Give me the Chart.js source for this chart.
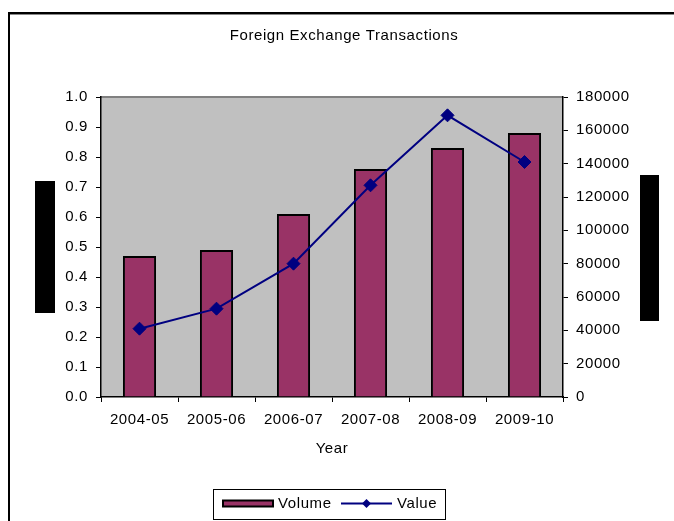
<!DOCTYPE html>
<html>
<head>
<meta charset="utf-8">
<script src="https://cdn.jsdelivr.net/npm/chart.js@4/dist/chart.umd.min.js"></script>
<style>
html,body{margin:0;padding:0;background:#fff;}
#wrap{width:674px;height:521px;position:relative;}
</style>
</head>
<body>
<div id="wrap"><canvas id="c" width="674" height="521"></canvas></div>
<script>
const chartTitle = "Foreign Exchange Transactions";
const xAxisTitle = "Year";
const years = ["2004-05", "2005-06", "2006-07", "2007-08", "2008-09", "2009-10"];
const volume = [0.47, 0.49, 0.61, 0.76, 0.83, 0.88];
const value = [41000, 53000, 80000, 127000, 169000, 141000];
const leftTicks = {min: 0, max: 1.0, step: 0.1};
const rightTicks = {min: 0, max: 180000, step: 20000};

const FONT = "'Liberation Sans', Arial, sans-serif";
const SPACING = '0.6px';

const decorPlugin = {
  id: 'decor',
  beforeUpdate(chart) { chart.ctx.letterSpacing = SPACING; },
  beforeDraw(chart) {
    const ctx = chart.ctx;
    const a = chart.chartArea;
    ctx.save();
    ctx.fillStyle = '#fff';
    ctx.fillRect(0, 0, chart.width, chart.height);
    // outer frame
    ctx.fillStyle = '#000';
    ctx.fillRect(8, 12, chart.width - 8, 2);
    ctx.fillRect(8, 12, 2, chart.height - 12);
    ctx.fillStyle = '#888';
    ctx.fillRect(10, 14, chart.width - 10, 1);
    // plot background
    ctx.fillStyle = '#C0C0C0';
    ctx.fillRect(a.left, a.top, a.right - a.left, a.bottom - a.top);
    ctx.strokeStyle = '#808080';
    ctx.lineWidth = 2;
    ctx.beginPath();
    ctx.moveTo(a.left, a.top);
    ctx.lineTo(a.right, a.top);
    ctx.stroke();
    // redacted axis title boxes
    ctx.fillStyle = '#000';
    ctx.fillRect(35, 181, 20, 132);
    ctx.fillRect(640, 175, 19, 146);
    ctx.restore();
    ctx.letterSpacing = SPACING;
  },
  afterDraw(chart) {
    const ctx = chart.ctx;
    ctx.save();
    ctx.letterSpacing = SPACING;
    ctx.fillStyle = '#000';
    ctx.font = '15px ' + FONT;
    ctx.textAlign = 'center';
    ctx.textBaseline = 'middle';
    ctx.fillText(chartTitle, 344, 36);
    // legend
    const ds = chart.data.datasets;
    const bar = ds.find(d => d.type === 'bar');
    const line = ds.find(d => d.type === 'line');
    ctx.strokeStyle = '#000';
    ctx.lineWidth = 1;
    ctx.strokeRect(213.5, 489.5, 232, 30);
    const cy = 503.5;
    ctx.fillStyle = bar.backgroundColor;
    ctx.fillRect(223, cy - 3, 50, 6);
    ctx.lineWidth = 2;
    ctx.strokeStyle = '#000';
    ctx.strokeRect(223, cy - 3, 50, 6);
    ctx.fillStyle = '#000';
    ctx.textAlign = 'left';
    ctx.fillText(bar.label, 278, cy);
    ctx.strokeStyle = line.borderColor;
    ctx.lineWidth = 2;
    ctx.beginPath();
    ctx.moveTo(341, cy);
    ctx.lineTo(392, cy);
    ctx.stroke();
    ctx.fillStyle = line.borderColor;
    ctx.beginPath();
    ctx.moveTo(366.5, cy - 4.5);
    ctx.lineTo(371, cy);
    ctx.lineTo(366.5, cy + 4.5);
    ctx.lineTo(362, cy);
    ctx.closePath();
    ctx.fill();
    ctx.fillStyle = '#000';
    ctx.fillText(line.label, 397, cy);
    ctx.restore();
  }
};

new Chart(document.getElementById('c'), {
  data: {
    labels: years,
    datasets: [
      {
        type: 'line', label: 'Value', data: value, yAxisID: 'y1', order: 0,
        borderColor: '#000080', backgroundColor: '#000080', borderWidth: 2,
        pointStyle: 'rectRot', pointRadius: 6.5, pointHoverRadius: 6.5,
        pointBackgroundColor: '#000080', pointBorderColor: '#000080', pointBorderWidth: 1,
        tension: 0
      },
      {
        type: 'bar', label: 'Volume', data: volume, yAxisID: 'y', order: 1,
        backgroundColor: '#993366', borderColor: '#000000', borderWidth: 2,
        barPercentage: 0.43, categoryPercentage: 1.0
      }
    ]
  },
  options: {
    responsive: false,
    animation: false,
    devicePixelRatio: 1,
    layout: {padding: {top: 97, left: 0, right: 0, bottom: 61}},
    plugins: {legend: {display: false}, title: {display: false}, tooltip: {enabled: false}},
    scales: {
      x: {
        type: 'category',
        offset: true,
        grid: {display: true, drawOnChartArea: false, drawTicks: true, tickLength: 5, color: '#000', offset: true},
        border: {display: true, color: '#000', width: 1.5},
        ticks: {color: '#000', font: {family: FONT, size: 15}, padding: 9, maxRotation: 0, autoSkip: false},
        title: {display: true, text: xAxisTitle, color: '#000', font: {family: FONT, size: 15}, padding: {top: 0, bottom: 2}},
        afterFit(s) { s.height = 63; }
      },
      y: {
        type: 'linear', position: 'left', min: leftTicks.min, max: leftTicks.max,
        grid: {display: true, drawOnChartArea: false, drawTicks: true, tickLength: 5, color: '#000'},
        border: {display: true, color: '#000', width: 1.5},
        ticks: {stepSize: leftTicks.step, color: '#000', font: {family: FONT, size: 15}, padding: 8,
          callback: v => Number(v).toFixed(1)},
        afterFit(s) { s.width = 101; }
      },
      y1: {
        type: 'linear', position: 'right', min: rightTicks.min, max: rightTicks.max,
        grid: {display: true, drawOnChartArea: false, drawTicks: true, tickLength: 5, color: '#000'},
        border: {display: true, color: '#000', width: 1.5},
        ticks: {stepSize: rightTicks.step, color: '#000', font: {family: FONT, size: 15}, padding: 8,
          callback: v => String(v)},
        afterFit(s) { s.width = 111; }
      }
    }
  },
  plugins: [decorPlugin]
});
</script>
</body>
</html>
